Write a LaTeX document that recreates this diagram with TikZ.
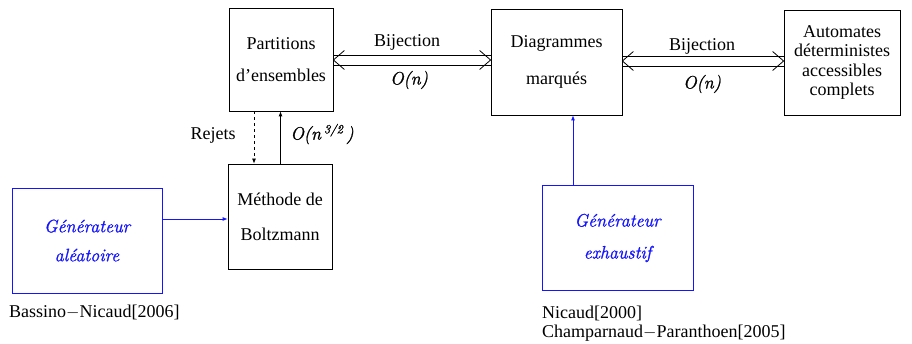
\documentclass[tikz,border=0pt]{standalone}
\usepackage{fontspec}
\setmainfont{Liberation Serif}
\newfontfamily\lmfont{Latin Modern Roman}[FakeBold=1.2]
\usetikzlibrary{arrows.meta}
\definecolor{myblue}{RGB}{20,20,255}
\tikzset{
  box/.style={draw, line width=0.8pt, inner sep=0pt, align=center},
  bbox/.style={box, draw=myblue, text=myblue},
  lbl/.style={font=\fontsize{18}{20}\selectfont, inner sep=0pt},
  ilbl/.style={font=\fontsize{18}{20}\selectfont\lmfont\itshape, inner sep=0pt},
  ln/.style={line width=0.8pt},
  tip/.style={-{Latex[length=5pt,width=4pt]}}
}
\begin{document}
\begin{tikzpicture}[x=1pt,y=-1pt]
\useasboundingbox (0,0) rectangle (912,344);
\fill[white] (0,0) rectangle (912,344);
% boxes
\node[box, minimum width=104pt, minimum height=103pt, font=\fontsize{18}{32}\selectfont] (p) at (281,59.5) {Partitions\\d'ensembles};
\node[box, minimum width=131pt, minimum height=106pt, font=\fontsize{18}{37}\selectfont] (d) at (556.5,62) {Diagrammes\\marqués};
\node[box, minimum width=116pt, minimum height=105pt, font=\fontsize{18}{19.5}\selectfont] (a) at (842,62.5) {Automates\\déterministes\\accessibles\\complets};
\node[box, minimum width=104pt, minimum height=105pt, font=\fontsize{18}{35}\selectfont] (m) at (280,216.5) {Méthode de\\Boltzmann};
\node[bbox, minimum width=150pt, minimum height=105pt, font=\fontsize{18}{29}\selectfont\lmfont\itshape] (ga) at (87,240.5) {Générateur\\aléatoire};
\node[bbox, minimum width=151pt, minimum height=105pt, font=\fontsize{18}{32}\selectfont\lmfont\itshape] (ge) at (617.5,238) {Générateur\\exhaustif};
% double arrows
\coordinate (l1) at (p.east |- 0,60);
\coordinate (r1) at (d.west |- 0,60);
\coordinate (l2) at (d.east |- 0,61);
\coordinate (r2) at (a.west |- 0,61);
\foreach \L/\R in {l1/r1, l2/r2}{
  \draw[ln] ([yshift=5pt]\L) -- ([yshift=5pt]\R);
  \draw[ln] ([yshift=-5pt]\L) -- ([yshift=-5pt]\R);
  \draw[ln] ([shift={(11pt,9.5pt)}]\L) -- (\L) -- ([shift={(11pt,-9.5pt)}]\L);
  \draw[ln] ([shift={(-11pt,9.5pt)}]\R) -- (\R) -- ([shift={(-11pt,-9.5pt)}]\R);
}
\node[lbl] (b1) at (407,42) {Bijection};
\node[ilbl] (o1) at (409,80) {O(n)};
\node[lbl] (b2) at (702,46) {Bijection};
\node[ilbl] (o2) at (702,84) {O(n)};
% vertical arrows
\draw[ln, dashed, tip] (p.south -| 254,0) -- (m.north -| 254,0);
\draw[ln, tip] (m.north -| 280.5,0) -- (p.south -| 280.5,0);
\node[lbl] (rej) at (213,135) {Rejets};
\node[ilbl] (o3) at (322,134) {O(n\,\textsuperscript{3/2}\,)};
% blue arrows
\draw[ln, draw=myblue, tip] (ga.east |- 0,219) -- (m.west |- 0,219);
\draw[ln, draw=myblue, tip] (ge.north -| 573,0) -- (d.south -| 573,0);
% references
\node[lbl, anchor=west] (r1t) at (9,312) {Bassino$-$Nicaud[2006]};
\node[lbl, anchor=west] (r2t) at (542,313) {Nicaud[2000]};
\node[lbl, anchor=west] (r3t) at (542,333) {Champarnaud$-$Paranthoen[2005]};
\end{tikzpicture}
\end{document}
